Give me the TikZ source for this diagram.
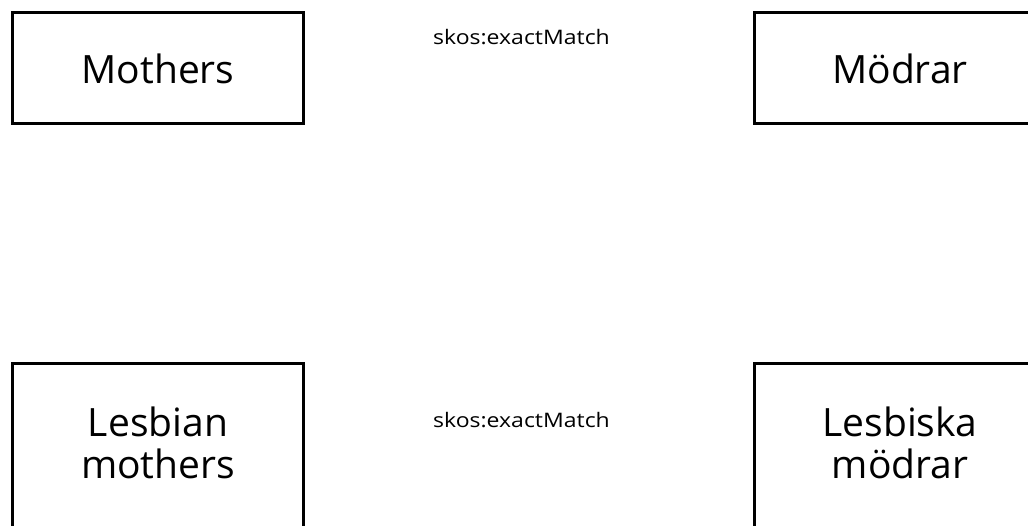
\documentclass[tikz,border=0pt]{standalone}
\usepackage{fontspec}
\setmainfont{Open Sans}
\newfontfamily\relfont[FakeStretch=1.15]{Open Sans}
\begin{document}
\begin{tikzpicture}[x=1pt,y=-1pt,
  concept/.style={draw=black, line width=3pt, minimum width=291pt, inner sep=0pt,
    font=\fontsize{39}{42}\selectfont, align=center},
  single/.style={concept, minimum height=111pt, text height=30pt, text depth=0pt},
  double/.style={concept, minimum height=200pt, text height=80pt, text depth=51pt},
  rel/.style={font=\relfont\fontsize{20}{24}\selectfont, anchor=base, inner sep=0pt}]
\useasboundingbox (0,0) rectangle (1028,525);
\clip (0,0) rectangle (1028,525);
\node[single] (mothers) at (158,68) {Mothers};
\node[single] (modrar) at (900,68) {Mödrar};
\node[double] (lesbian) at (158,463.5) {Lesbian\\mothers};
\node[double] (lesbiska) at (900,463.5) {Lesbiska\\mödrar};
\node[rel] (top) at (521.5,44) {skos:exactMatch};
\node[rel] (bottom) at (521.5,427) {skos:exactMatch};
\end{tikzpicture}
\end{document}
